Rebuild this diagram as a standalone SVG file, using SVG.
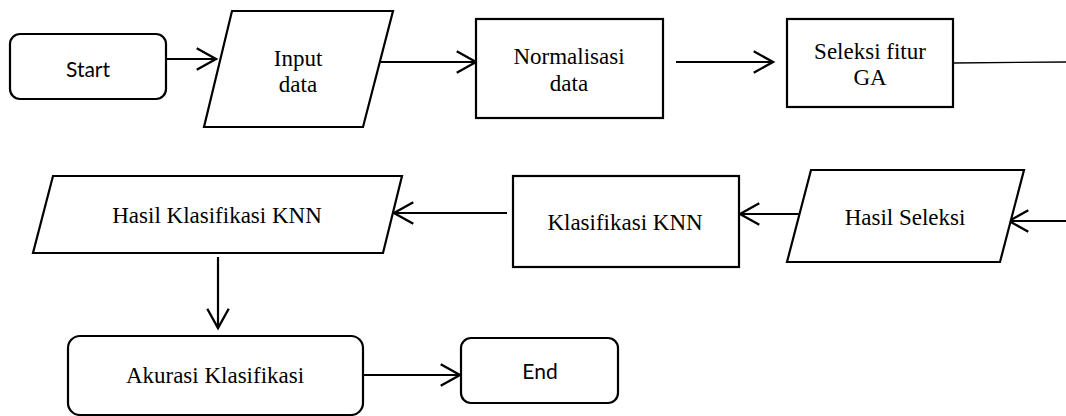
<svg xmlns="http://www.w3.org/2000/svg" width="1066" height="416" viewBox="0 0 1066 416">
<defs>
<marker id="arr" markerUnits="userSpaceOnUse" markerWidth="30" markerHeight="30" viewBox="-22 -14 26 28" refX="0" refY="0" orient="auto">
<path d="M -18 -10 L 0 0 L -18 10" fill="none" stroke="#000" stroke-width="2.2"/>
</marker>
<style>
.box{fill:#fff;stroke:#000;stroke-width:2.2}
.ser{font-family:"Liberation Serif","Times New Roman",serif;font-size:23px;fill:#000;text-anchor:middle}
.san{font-family:Lato,"Open Sans",sans-serif;font-size:21px;fill:#000;text-anchor:middle}
.con{fill:none;stroke:#000;stroke-width:2.2}
</style>
</defs>
<rect width="1066" height="416" fill="#fff"/>
<g id="connectors">
<line class="con" x1="166" y1="59" x2="216" y2="59" marker-end="url(#arr)"/>
<line class="con" x1="379" y1="62" x2="476" y2="62" marker-end="url(#arr)"/>
<line class="con" x1="676" y1="62" x2="773" y2="62" marker-end="url(#arr)"/>
<line x1="953" y1="63" x2="1066" y2="62" stroke="#000" stroke-width="1.3"/>
<line class="con" x1="1066" y1="221" x2="1009" y2="221" marker-end="url(#arr)"/>
<line class="con" x1="799" y1="214" x2="740" y2="214" marker-end="url(#arr)"/>
<line class="con" x1="507" y1="213" x2="394" y2="213" marker-end="url(#arr)"/>
<line class="con" x1="218" y1="257" x2="218" y2="328" marker-end="url(#arr)"/>
<line class="con" x1="363" y1="375" x2="460" y2="375" marker-end="url(#arr)"/>
</g>
<g id="start">
<rect class="box" x="10" y="34" width="156" height="65" rx="10"/>
<text class="san" x="88" y="77">Start</text>
</g>
<g id="input">
<polygon class="box" points="232,11 393,11 363,127 204,127"/>
<text class="ser" x="298" y="66">Input</text>
<text class="ser" x="298" y="92">data</text>
</g>
<g id="normalisasi">
<rect class="box" x="476" y="19" width="187" height="99"/>
<text class="ser" x="569" y="64">Normalisasi</text>
<text class="ser" x="569" y="91">data</text>
</g>
<g id="seleksi">
<rect class="box" x="787" y="19" width="166" height="88"/>
<text class="ser" x="870" y="59">Seleksi fitur</text>
<text class="ser" x="870" y="85">GA</text>
</g>
<g id="hasil-seleksi">
<polygon class="box" points="811,170 1024,170 1000,262 787,262"/>
<text class="ser" x="905" y="225">Hasil Seleksi</text>
</g>
<g id="klasifikasi">
<rect class="box" x="513" y="176" width="226" height="91"/>
<text class="ser" x="625" y="230">Klasifikasi KNN</text>
</g>
<g id="hasil-klasifikasi">
<polygon class="box" points="53,176 402,176 383,253 33,253"/>
<text class="ser" x="217" y="223">Hasil Klasifikasi KNN</text>
</g>
<g id="akurasi">
<rect class="box" x="68" y="336" width="295" height="79" rx="12"/>
<text class="ser" x="215" y="383">Akurasi Klasifikasi</text>
</g>
<g id="end">
<rect class="box" x="461" y="338" width="157" height="65" rx="10"/>
<text class="san" x="540" y="379">End</text>
</g>
</svg>
